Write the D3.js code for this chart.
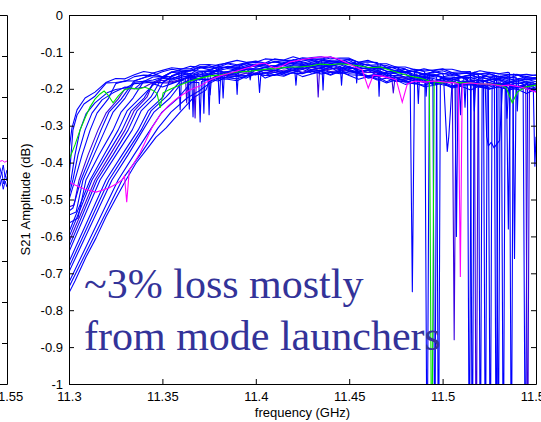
<!DOCTYPE html>
<html>
<head>
<meta charset="utf-8">
<script src="https://cdn.jsdelivr.net/npm/d3@7"></script>
<style>
  html, body { margin: 0; padding: 0; background: #ffffff; }
  svg { display: block; }
</style>
</head>
<body>
<svg id="chart" width="541" height="422"></svg>
<script>
// ---------------- data ----------------
const xTicks = [11.3, 11.35, 11.4, 11.45, 11.5, 11.55];
const xTickLabels = ["11.3", "11.35", "11.4", "11.45", "11.5", "11.55"];
const yTicks = [0, -0.1, -0.2, -0.3, -0.4, -0.5, -0.6, -0.7, -0.8, -0.9, -1];
const yTickLabels = ["0", "-0.1", "-0.2", "-0.3", "-0.4", "-0.5", "-0.6", "-0.7", "-0.8", "-0.9", "-1"];

// shared frequency grid (GHz) for the flat part of each blue sweep
const bandFreq = [11.32, 11.325, 11.33, 11.335, 11.34, 11.345, 11.35, 11.355, 11.36, 11.365,
  11.37, 11.375, 11.38, 11.385, 11.39, 11.395, 11.4, 11.405, 11.41, 11.415,
  11.42, 11.425, 11.43, 11.435, 11.44, 11.445, 11.45, 11.455, 11.46, 11.465,
  11.47, 11.475, 11.48, 11.485, 11.49, 11.495, 11.5, 11.505, 11.51, 11.515,
  11.52, 11.525, 11.53, 11.535, 11.54, 11.545, 11.55];

// low-frequency roll-off of each blue sweep: [GHz, dB]
const blueFan = [
  [[11.3, -0.366], [11.3016, -0.306], [11.3043, -0.257], [11.3086, -0.225], [11.3139, -0.209]],
  [[11.3, -0.442], [11.3011, -0.379], [11.3021, -0.312], [11.3043, -0.271], [11.308, -0.241], [11.3139, -0.22]],
  [[11.3, -0.474], [11.3011, -0.447], [11.3032, -0.379], [11.3059, -0.312], [11.3091, -0.268], [11.3139, -0.238], [11.3204, -0.211]],
  [[11.3, -0.501], [11.3032, -0.447], [11.307, -0.379], [11.3113, -0.312], [11.315, -0.266], [11.3209, -0.228]],
  [[11.3, -0.52], [11.3027, -0.515], [11.3054, -0.447], [11.3102, -0.379], [11.3155, -0.312], [11.3198, -0.266], [11.3263, -0.228]],
  [[11.3, -0.542], [11.3038, -0.534], [11.3075, -0.447], [11.3134, -0.379], [11.3193, -0.312], [11.3236, -0.263], [11.33, -0.225]],
  [[11.3, -0.564], [11.3048, -0.55], [11.3091, -0.447], [11.3161, -0.379], [11.3236, -0.312], [11.3279, -0.263], [11.3343, -0.225]],
  [[11.3, -0.588], [11.3113, -0.447], [11.3188, -0.379], [11.3263, -0.312], [11.3311, -0.26], [11.338, -0.225]],
  [[11.3, -0.615], [11.3139, -0.447], [11.322, -0.379], [11.33, -0.312], [11.3348, -0.26], [11.3418, -0.222]],
  [[11.3, -0.642], [11.3166, -0.447], [11.3252, -0.379], [11.3338, -0.312], [11.3386, -0.26], [11.3461, -0.222]],
  [[11.3, -0.669], [11.3198, -0.447], [11.3284, -0.379], [11.337, -0.312], [11.3423, -0.26], [11.3504, -0.222]],
  [[11.3, -0.696], [11.323, -0.447], [11.3316, -0.379], [11.3396, -0.312], [11.3455, -0.263], [11.3541, -0.225]],
  [[11.3, -0.724], [11.3263, -0.447], [11.3348, -0.379], [11.3434, -0.312], [11.3498, -0.263], [11.3584, -0.225]],
  [[11.3, -0.753], [11.3032, -0.721], [11.3091, -0.656], [11.3145, -0.604], [11.3198, -0.547], [11.3252, -0.496],
   [11.3305, -0.447], [11.3359, -0.401], [11.3413, -0.366], [11.3466, -0.331], [11.352, -0.306], [11.3595, -0.263],
   [11.3664, -0.225], [11.3734, -0.203]],
  [[11.3, -0.488], [11.3021, -0.447], [11.3048, -0.379], [11.3086, -0.312], [11.3123, -0.266], [11.3177, -0.23], [11.3236, -0.211]],
  [[11.3, -0.531], [11.3021, -0.523], [11.3064, -0.447], [11.3118, -0.379], [11.3171, -0.312], [11.3214, -0.263], [11.3279, -0.228]],
  [[11.3, -0.602], [11.3123, -0.447], [11.3204, -0.379], [11.3284, -0.312], [11.3332, -0.26], [11.3402, -0.225]],
  [[11.3, -0.629], [11.315, -0.447], [11.3236, -0.379], [11.3316, -0.312], [11.3364, -0.26], [11.3439, -0.222]],
  [[11.3, -0.683], [11.3214, -0.447], [11.33, -0.379], [11.3386, -0.312], [11.3439, -0.26], [11.352, -0.222]],
  [[11.3, -0.737], [11.3284, -0.447], [11.338, -0.379], [11.3477, -0.306], [11.3546, -0.263], [11.3632, -0.225], [11.3696, -0.206]]
];

// first grid frequency of each sweep's flat part
const blueBandStart = [11.32, 11.32, 11.325, 11.325, 11.33, 11.335, 11.34, 11.345, 11.345, 11.35,
  11.355, 11.36, 11.365, 11.375, 11.33, 11.335, 11.345, 11.35, 11.36, 11.375];

// flat-part amplitude (dB) of each sweep on bandFreq
const blueBand = [
  [-0.182,-0.172,-0.173,-0.162,-0.153,-0.157,-0.150,-0.143,-0.146,-0.146,-0.135,-0.134,-0.137,-0.129,-0.123,-0.128,-0.128,-0.119,-0.121,-0.122,-0.113,-0.121,-0.115,-0.113,-0.119,-0.117,-0.117,-0.128,-0.123,-0.132,-0.132,-0.141,-0.146,-0.139,-0.146,-0.151,-0.147,-0.147,-0.153,-0.158,-0.151,-0.156,-0.159,-0.155,-0.163,-0.161,-0.164],
  [-0.184,-0.183,-0.180,-0.167,-0.163,-0.164,-0.154,-0.147,-0.151,-0.150,-0.140,-0.141,-0.141,-0.132,-0.139,-0.132,-0.128,-0.132,-0.127,-0.124,-0.129,-0.119,-0.123,-0.119,-0.124,-0.127,-0.120,-0.129,-0.136,-0.135,-0.137,-0.146,-0.153,-0.147,-0.152,-0.156,-0.151,-0.160,-0.157,-0.159,-0.160,-0.159,-0.167,-0.163,-0.161,-0.171,-0.170],
  [-0.202,-0.198,-0.186,-0.184,-0.182,-0.171,-0.177,-0.169,-0.164,-0.167,-0.161,-0.157,-0.162,-0.151,-0.154,-0.148,-0.151,-0.151,-0.141,-0.144,-0.146,-0.140,-0.138,-0.143,-0.148,-0.142,-0.149,-0.155,-0.153,-0.164,-0.164,-0.168,-0.170,-0.169,-0.178,-0.173,-0.172,-0.181,-0.179,-0.176,-0.184,-0.188,-0.182,-0.185,-0.192,-0.188],
  [-0.186,-0.178,-0.179,-0.170,-0.164,-0.167,-0.155,-0.157,-0.150,-0.152,-0.151,-0.140,-0.143,-0.144,-0.137,-0.133,-0.136,-0.138,-0.129,-0.130,-0.131,-0.124,-0.131,-0.127,-0.129,-0.131,-0.132,-0.143,-0.141,-0.142,-0.154,-0.154,-0.152,-0.160,-0.165,-0.158,-0.162,-0.168,-0.163,-0.160,-0.169,-0.172,-0.167,-0.172,-0.176,-0.171],
  [-0.200,-0.200,-0.196,-0.183,-0.184,-0.184,-0.176,-0.171,-0.173,-0.174,-0.164,-0.165,-0.165,-0.157,-0.162,-0.156,-0.155,-0.154,-0.149,-0.155,-0.148,-0.145,-0.153,-0.151,-0.149,-0.159,-0.166,-0.162,-0.168,-0.177,-0.174,-0.172,-0.181,-0.185,-0.179,-0.185,-0.188,-0.182,-0.192,-0.189,-0.188,-0.196,-0.194,-0.194,-0.203],
  [-0.182,-0.180,-0.168,-0.167,-0.166,-0.157,-0.161,-0.154,-0.152,-0.150,-0.145,-0.150,-0.142,-0.137,-0.143,-0.138,-0.133,-0.137,-0.139,-0.130,-0.132,-0.137,-0.132,-0.130,-0.141,-0.147,-0.144,-0.152,-0.158,-0.154,-0.165,-0.162,-0.162,-0.169,-0.168,-0.167,-0.175,-0.167,-0.174,-0.171,-0.178,-0.181,-0.174,-0.181],
  [-0.180,-0.176,-0.169,-0.173,-0.164,-0.158,-0.163,-0.157,-0.151,-0.155,-0.156,-0.146,-0.146,-0.149,-0.141,-0.136,-0.141,-0.142,-0.134,-0.138,-0.140,-0.134,-0.145,-0.144,-0.146,-0.156,-0.157,-0.159,-0.169,-0.162,-0.169,-0.167,-0.173,-0.177,-0.169,-0.175,-0.179,-0.176,-0.175,-0.182,-0.187,-0.181,-0.186],
  [-0.190,-0.170,-0.155,-0.147,-0.139,-0.142,-0.143,-0.134,-0.130,-0.135,-0.129,-0.125,-0.130,-0.119,-0.123,-0.123,-0.116,-0.118,-0.120,-0.113,-0.123,-0.120,-0.128,-0.127,-0.129,-0.142,-0.141,-0.141,-0.148,-0.152,-0.149,-0.146,-0.156,-0.154,-0.153,-0.160,-0.155,-0.160,-0.161,-0.162,-0.167,-0.162],
  [-0.183,-0.177,-0.181,-0.174,-0.169,-0.173,-0.161,-0.164,-0.164,-0.156,-0.157,-0.157,-0.148,-0.155,-0.149,-0.151,-0.145,-0.142,-0.151,-0.146,-0.144,-0.151,-0.157,-0.156,-0.156,-0.168,-0.169,-0.170,-0.178,-0.173,-0.179,-0.179,-0.181,-0.185,-0.179,-0.186,-0.191,-0.184,-0.189,-0.194,-0.190,-0.189],
  [-0.185,-0.165,-0.153,-0.152,-0.142,-0.148,-0.141,-0.143,-0.136,-0.132,-0.139,-0.132,-0.127,-0.131,-0.131,-0.125,-0.120,-0.128,-0.125,-0.124,-0.132,-0.129,-0.137,-0.140,-0.144,-0.151,-0.147,-0.155,-0.160,-0.154,-0.158,-0.164,-0.159,-0.157,-0.166,-0.166,-0.162,-0.170,-0.175,-0.170,-0.170],
  [-0.164,-0.159,-0.165,-0.157,-0.151,-0.154,-0.154,-0.147,-0.141,-0.147,-0.142,-0.138,-0.143,-0.134,-0.137,-0.135,-0.135,-0.138,-0.132,-0.140,-0.147,-0.143,-0.150,-0.158,-0.156,-0.156,-0.166,-0.166,-0.163,-0.170,-0.176,-0.170,-0.169,-0.177,-0.175,-0.174,-0.183,-0.175,-0.182,-0.330],
  [-0.186,-0.175,-0.175,-0.174,-0.166,-0.171,-0.165,-0.164,-0.162,-0.157,-0.162,-0.155,-0.150,-0.157,-0.153,-0.149,-0.155,-0.159,-0.153,-0.159,-0.168,-0.166,-0.166,-0.177,-0.182,-0.177,-0.183,-0.187,-0.181,-0.192,-0.188,-0.187,-0.194,-0.193,-0.192,-0.201,-0.193,-0.200,-0.198],
  [-0.185,-0.172,-0.160,-0.145,-0.140,-0.146,-0.141,-0.135,-0.139,-0.140,-0.131,-0.131,-0.135,-0.128,-0.124,-0.131,-0.134,-0.129,-0.137,-0.143,-0.140,-0.153,-0.152,-0.153,-0.161,-0.160,-0.160,-0.168,-0.161,-0.167,-0.164,-0.170,-0.174,-0.166,-0.173,-0.177,-0.174,-0.174],
  [-0.180,-0.170,-0.170,-0.173,-0.165,-0.159,-0.164,-0.164,-0.156,-0.158,-0.159,-0.151,-0.160,-0.155,-0.154,-0.162,-0.163,-0.165,-0.176,-0.171,-0.180,-0.179,-0.186,-0.190,-0.183,-0.189,-0.194,-0.190,-0.189,-0.195,-0.201,-0.194,-0.199,-0.202,-0.198,-0.207],
  [-0.195,-0.200,-0.179,-0.183,-0.183,-0.167,-0.175,-0.165,-0.173,-0.162,-0.155,-0.163,-0.159,-0.148,-0.161,-0.148,-0.149,-0.154,-0.142,-0.137,-0.149,-0.142,-0.147,-0.139,-0.154,-0.152,-0.150,-0.163,-0.156,-0.169,-0.178,-0.169,-0.173,-0.182,-0.171,-0.182,-0.176,-0.186,-0.182,-0.176,-0.189,-0.185,-0.195,-0.185,-0.193],
  [-0.178,-0.170,-0.157,-0.168,-0.154,-0.154,-0.157,-0.144,-0.137,-0.148,-0.139,-0.142,-0.131,-0.142,-0.134,-0.126,-0.134,-0.121,-0.129,-0.134,-0.123,-0.125,-0.133,-0.123,-0.136,-0.133,-0.146,-0.145,-0.141,-0.156,-0.152,-0.163,-0.153,-0.160,-0.156,-0.168,-0.161,-0.172,-0.159,-0.168,-0.174,-0.162,-0.175,-0.170],
  [-0.186,-0.195,-0.186,-0.177,-0.183,-0.169,-0.175,-0.179,-0.166,-0.166,-0.171,-0.157,-0.164,-0.155,-0.163,-0.156,-0.147,-0.158,-0.152,-0.161,-0.150,-0.158,-0.156,-0.171,-0.167,-0.181,-0.170,-0.181,-0.187,-0.176,-0.189,-0.183,-0.196,-0.189,-0.185,-0.196,-0.196,-0.188,-0.205,-0.195,-0.200,-0.208],
  [-0.168,-0.174,-0.164,-0.170,-0.162,-0.151,-0.161,-0.153,-0.160,-0.146,-0.150,-0.142,-0.151,-0.142,-0.150,-0.134,-0.141,-0.145,-0.132,-0.144,-0.139,-0.154,-0.150,-0.149,-0.163,-0.165,-0.159,-0.176,-0.167,-0.172,-0.179,-0.171,-0.168,-0.182,-0.176,-0.183,-0.175,-0.190,-0.185,-0.181,-0.192],
  [-0.177,-0.168,-0.176,-0.165,-0.173,-0.156,-0.162,-0.164,-0.149,-0.158,-0.149,-0.159,-0.149,-0.143,-0.152,-0.150,-0.141,-0.157,-0.148,-0.155,-0.165,-0.159,-0.159,-0.176,-0.172,-0.179,-0.172,-0.187,-0.182,-0.178,-0.188,-0.178,-0.188,-0.196,-0.186,-0.190,-0.198,-0.188,-0.199],
  [-0.186,-0.173,-0.174,-0.178,-0.166,-0.160,-0.171,-0.162,-0.166,-0.155,-0.167,-0.160,-0.154,-0.163,-0.153,-0.164,-0.174,-0.167,-0.173,-0.184,-0.176,-0.188,-0.183,-0.194,-0.191,-0.184,-0.198,-0.193,-0.203,-0.192,-0.200,-0.195,-0.208,-0.201,-0.213,-0.200]
];

// resonance notches of each sweep: runs of [GHz, dB]
const blueNotches = [
  [[[11.4826,-0.155],[11.4838,-0.75],[11.485,-0.152]], [[11.5358,-0.157],[11.5368,-1.3],[11.5378,-0.16]]],
  [[[11.4905,-0.157],[11.4917,-1.3],[11.4929,-0.158]]],
  [[[11.3962,-0.151],[11.397,-0.176],[11.3978,-0.15]], [[11.4948,-0.175],[11.4958,-1.3],[11.4968,-0.176]], [[11.5431,-0.186],[11.5443,-1.3],[11.5455,-0.19]]],
  [[[11.3588,-0.158],[11.3595,-0.257],[11.3603,-0.156]], [[11.5005,-0.165],[11.5012,-0.24],[11.5018,-0.30],[11.5025,-0.37],[11.5033,-0.33],[11.5042,-0.26],[11.5052,-0.17]]],
  [[[11.3624,-0.172],[11.363,-0.238],[11.3637,-0.171]], [[11.4728,-0.17],[11.4736,-0.211],[11.4744,-0.175]], [[11.5052,-0.185],[11.5062,-0.88],[11.5072,-0.186]]],
  [[[11.3657,-0.162],[11.3664,-0.276],[11.3671,-0.158]], [[11.5066,-0.168],[11.5074,-0.6],[11.5083,-0.168]], [[11.5113,-0.168],[11.512,-0.25],[11.5127,-0.17]]],
  [[[11.3818,-0.152],[11.3825,-0.225],[11.3832,-0.155]], [[11.4968,-0.168],[11.4978,-1.3],[11.4988,-0.17]], [[11.5133,-0.174],[11.5143,-1.3],[11.5153,-0.177]]],
  [[[11.4653,-0.13],[11.466,-0.22],[11.4667,-0.133]], [[11.5149,-0.153],[11.5159,-1.3],[11.5169,-0.155]]],
  [[[11.3668,-0.17],[11.3675,-0.279],[11.3682,-0.172]], [[11.4327,-0.146],[11.4334,-0.222],[11.4341,-0.15]], [[11.517,-0.18],[11.518,-1.3],[11.519,-0.183]], [[11.5445,-0.19],[11.5455,-1.3],[11.5465,-0.19]]],
  [[[11.4533,-0.128],[11.454,-0.184],[11.4547,-0.135]], [[11.5192,-0.163],[11.5202,-1.3],[11.5212,-0.165]], [[11.5288,-0.165],[11.5298,-1.3],[11.5308,-0.166]], [[11.5393,-0.168],[11.54,-0.26],[11.5407,-0.172]]],
  [[[11.3715,-0.156],[11.3722,-0.266],[11.3729,-0.153]], [[11.5219,-0.176],[11.5229,-1.3],[11.5239,-0.176]], [[11.5485,-0.182],[11.5494,-0.41]]],
  [[[11.3748,-0.174],[11.3755,-0.217],[11.3762,-0.175]], [[11.5228,-0.19],[11.5236,-0.33],[11.5245,-0.355],[11.526,-0.345],[11.5275,-0.36],[11.529,-0.35],[11.5305,-0.34],[11.532,-0.2]], [[11.5342,-0.19],[11.5352,-0.58],[11.5362,-0.192]]],
  [[[11.4353,-0.126],[11.436,-0.203],[11.4367,-0.13]], [[11.4863,-0.16],[11.487,-0.24],[11.4877,-0.162]], [[11.5277,-0.163],[11.5287,-1.3],[11.5297,-0.165]]],
  [[[11.5315,-0.19],[11.5325,-1.3],[11.5335,-0.19]], [[11.5377,-0.196],[11.5385,-0.66],[11.5393,-0.197]]],
  [[[11.3797,-0.15],[11.3805,-0.24],[11.3813,-0.152]], [[11.4208,-0.146],[11.4215,-0.19],[11.4222,-0.147]], [[11.5088,-0.175],[11.5096,-0.27],[11.5104,-0.178]]],
  [[[11.3637,-0.157],[11.3644,-0.255],[11.3651,-0.16]], [[11.4905,-0.157],[11.4912,-0.22],[11.4919,-0.16]]],
  [[[11.3695,-0.183],[11.3702,-0.29],[11.3709,-0.18]], [[11.5245,-0.196],[11.5255,-1.3],[11.5265,-0.196]]],
  [[[11.3893,-0.15],[11.39,-0.215],[11.3907,-0.151]], [[11.5163,-0.18],[11.517,-0.26],[11.5177,-0.182]]],
  [[[11.3743,-0.16],[11.375,-0.27],[11.3757,-0.158]], [[11.4452,-0.14],[11.4459,-0.19],[11.4466,-0.142]]],
  [[[11.4013,-0.16],[11.402,-0.21],[11.4027,-0.162]], [[11.5337,-0.2],[11.5345,-0.28],[11.5353,-0.2]]]
];
const blueColors = ["#0000ff","#0000ff","#0000ff","#0000ff","#3a00e0","#0000ff","#0000ff","#0000ff","#3a00e0","#0000ff",
  "#0000ff","#0000ff","#0000ff","#0000ff","#0000ff","#0000ff","#0000ff","#0000ff","#0000ff","#0000ff"];

// green sweep [GHz, dB]
const greenSweep = [
  [11.3,-0.393],[11.3032,-0.352],[11.3059,-0.312],[11.3086,-0.279],[11.3113,-0.249],[11.3139,-0.228],[11.3166,-0.214],
  [11.3188,-0.206],[11.3209,-0.217],[11.3236,-0.238],[11.3263,-0.22],[11.3295,-0.203],[11.3327,-0.198],[11.337,-0.201],
  [11.3407,-0.196],[11.3445,-0.203],[11.3471,-0.212],[11.3488,-0.252],[11.3504,-0.211],[11.3541,-0.201],[11.3595,-0.19],
  [11.3648,-0.179],[11.3702,-0.171],[11.3755,-0.165],[11.3809,-0.163],[11.3863,-0.157],[11.3916,-0.154],[11.397,-0.152],
  [11.4023,-0.149],[11.4077,-0.146],[11.413,-0.144],[11.4184,-0.141],[11.4238,-0.141],[11.4291,-0.138],[11.4345,-0.133],
  [11.4398,-0.135],[11.4452,-0.132],[11.4505,-0.135],[11.4559,-0.138],[11.4612,-0.143],[11.4666,-0.141],[11.472,-0.15],
  [11.4773,-0.158],[11.4827,-0.166],[11.488,-0.171],[11.4929,-0.179],[11.4942,-1.3],[11.4955,-0.18],[11.4987,-0.184],
  [11.5041,-0.182],[11.5095,-0.184],[11.5148,-0.184],[11.5202,-0.187],[11.5255,-0.187],[11.5309,-0.19],[11.5341,-0.198],
  [11.5373,-0.238],[11.54,-0.209],[11.5443,-0.195],[11.55,-0.19]
];

// magenta sweep [GHz, dB]
const magentaSweep = [
  [11.3,-0.453],[11.3032,-0.461],[11.3086,-0.472],[11.3145,-0.48],[11.3182,-0.474],[11.3214,-0.469],[11.3252,-0.458],
  [11.3284,-0.447],[11.3297,-0.436],[11.3309,-0.507],[11.3323,-0.42],[11.3343,-0.406],[11.338,-0.374],[11.3413,-0.339],
  [11.3445,-0.304],[11.3488,-0.271],[11.353,-0.247],[11.3568,-0.23],[11.3605,-0.217],[11.3648,-0.203],[11.3702,-0.192],
  [11.3755,-0.176],[11.3809,-0.165],[11.3863,-0.157],[11.3916,-0.149],[11.397,-0.141],[11.4013,-0.133],[11.405,-0.13],
  [11.4077,-0.138],[11.4104,-0.144],[11.4141,-0.138],[11.4184,-0.127],[11.4238,-0.122],[11.4291,-0.117],[11.4345,-0.114],
  [11.4398,-0.114],[11.4441,-0.119],[11.4489,-0.13],[11.4532,-0.141],[11.457,-0.149],[11.4602,-0.198],[11.4629,-0.163],
  [11.4666,-0.165],[11.472,-0.171],[11.4752,-0.176],[11.4784,-0.236],[11.4811,-0.187],[11.4854,-0.179],[11.4907,-0.182],
  [11.4961,-0.179],[11.5014,-0.182],[11.5068,-0.184],[11.5084,-0.187],[11.5095,-0.71],[11.5105,-0.187],[11.5148,-0.184],
  [11.5202,-0.187],[11.5255,-0.187],[11.5309,-0.192],[11.5362,-0.19],[11.5416,-0.195],[11.5459,-0.201],[11.55,-0.209]
];

// neighbouring panel (only its right edge is in view)
const sideYTicks = [0, -0.1, -0.2, -0.3, -0.4, -0.5, -0.6, -0.7, -0.8, -0.9];
const sideMagenta = [[11.5462,-0.357],[11.5475,-0.355],[11.5488,-0.359],[11.55,-0.356]];
const sideBlue = [
  [[11.5462,-0.372],[11.547,-0.388],[11.548,-0.366],[11.549,-0.395],[11.55,-0.378]],
  [[11.5462,-0.4],[11.5472,-0.383],[11.5482,-0.412],[11.5492,-0.39],[11.55,-0.405]],
  [[11.5462,-0.418],[11.547,-0.4],[11.548,-0.425],[11.549,-0.405],[11.55,-0.42]]
];

const noteLines = ["~3% loss mostly", "from mode launchers"];

// ---------------- drawing ----------------
const sansFont = "'Liberation Sans', Arial, Helvetica, sans-serif";
const svg = d3.select("#chart");
const box = { left: 69, right: 536, top: 15, bottom: 384 };

const x = d3.scaleLinear().domain([11.3, 11.55]).range([box.left, box.right]);
const y = d3.scaleLinear().domain([-1, 0]).range([box.bottom, box.top]);

const defs = svg.append("defs");
defs.append("clipPath").attr("id", "mainClip").append("rect")
  .attr("x", box.left).attr("y", box.top)
  .attr("width", box.right - box.left).attr("height", box.bottom - box.top);

// side panel scales
const xs = d3.scaleLinear().domain([11.3, 11.55]).range([7 - 467, 7]);
const ys = d3.scaleLinear().domain([-0.9, 0]).range([384, 15]);
defs.append("clipPath").attr("id", "sideClip").append("rect")
  .attr("x", -460).attr("y", 15).attr("width", 467).attr("height", 369);

function styleAxis(g) {
  g.attr("font-family", sansFont).attr("font-size", 13);
  g.selectAll("path.domain").attr("stroke", "#000").attr("stroke-width", 1);
  g.selectAll(".tick line").attr("stroke", "#000").attr("stroke-width", 1);
  g.selectAll(".tick text").attr("fill", "#000");
}

// ---- side panel ----
const sideLine = d3.line().x(d => xs(d[0])).y(d => ys(d[1]));
const sideData = svg.append("g").attr("clip-path", "url(#sideClip)");
sideBlue.forEach(s => sideData.append("path").attr("d", sideLine(s))
  .attr("fill", "none").attr("stroke", "#0000ff").attr("stroke-width", 1));
sideData.append("path").attr("d", sideLine(sideMagenta))
  .attr("fill", "none").attr("stroke", "#ff00ff").attr("stroke-width", 1);

svg.append("g").attr("transform", `translate(${xs(11.55)},0)`)
  .call(d3.axisRight(ys).tickValues(sideYTicks).tickSizeInner(-5).tickSizeOuter(0).tickFormat(""))
  .call(styleAxis);
svg.append("g").attr("transform", `translate(0,${ys(0)})`)
  .call(d3.axisTop(xs).tickValues([]).tickSizeOuter(0))
  .call(styleAxis);
svg.append("g").attr("transform", `translate(0,${ys(-0.9)})`)
  .call(d3.axisBottom(xs).tickValues([11.55]).tickSizeInner(-5).tickSizeOuter(0).tickPadding(8)
    .tickFormat(() => "11.55"))
  .call(styleAxis);

// ---- main panel data ----
const line = d3.line().x(d => x(d[0])).y(d => y(d[1]));
const dataG = svg.append("g").attr("clip-path", "url(#mainClip)");

function sweepPoints(k) {
  const start = bandFreq.indexOf(blueBandStart[k]);
  let pts = blueFan[k].concat(blueBand[k].map((v, i) => [bandFreq[start + i], v]));
  blueNotches[k].forEach(n => {
    const lo = n[0][0], hi = n[n.length - 1][0];
    pts = pts.filter(p => p[0] < lo || p[0] > hi).concat(n);
  });
  return pts.sort((a, b) => a[0] - b[0]);
}

blueFan.forEach((_, k) => {
  dataG.append("path").attr("d", line(sweepPoints(k)))
    .attr("fill", "none").attr("stroke", blueColors[k]).attr("stroke-width", 1.1)
    .attr("stroke-linejoin", "round");
});
dataG.append("path").attr("d", line(greenSweep))
  .attr("fill", "none").attr("stroke", "#00e000").attr("stroke-width", 1.1);
dataG.append("path").attr("d", line(magentaSweep))
  .attr("fill", "none").attr("stroke", "#ff00ff").attr("stroke-width", 1.1);

// ---- main panel axes (box with inward ticks) ----
svg.append("g").attr("transform", `translate(${box.left},0)`)
  .call(d3.axisLeft(y).tickValues(yTicks).tickSizeInner(-5).tickSizeOuter(0).tickPadding(6)
    .tickFormat((d, i) => yTickLabels[i]))
  .call(styleAxis);
svg.append("g").attr("transform", `translate(${box.right},0)`)
  .call(d3.axisRight(y).tickValues(yTicks).tickSizeInner(-5).tickSizeOuter(0).tickFormat(""))
  .call(styleAxis);
svg.append("g").attr("transform", `translate(0,${box.bottom})`)
  .call(d3.axisBottom(x).tickValues(xTicks).tickSizeInner(-5).tickSizeOuter(0).tickPadding(8)
    .tickFormat((d, i) => xTickLabels[i]))
  .call(styleAxis);
svg.append("g").attr("transform", `translate(0,${box.top})`)
  .call(d3.axisTop(x).tickValues(xTicks).tickSizeInner(-5).tickSizeOuter(0).tickFormat(""))
  .call(styleAxis);

// axis titles
svg.append("text")
  .attr("transform", `translate(30,${(box.top + box.bottom) / 2}) rotate(-90)`)
  .attr("text-anchor", "middle").attr("font-family", sansFont).attr("font-size", 13)
  .attr("fill", "#000").text("S21 Amplitude (dB)");
svg.append("text")
  .attr("x", (box.left + box.right) / 2).attr("y", 417)
  .attr("text-anchor", "middle").attr("font-family", sansFont).attr("font-size", 13)
  .attr("fill", "#000").text("frequency (GHz)");

// annotation
const note = svg.append("text")
  .attr("font-family", "'Liberation Serif', 'Times New Roman', Times, serif")
  .attr("font-size", 42).attr("fill", "#333399");
noteLines.forEach((t, i) => note.append("tspan").attr("x", 84).attr("y", 298 + i * 52).text(t));
</script>
</body>
</html>
